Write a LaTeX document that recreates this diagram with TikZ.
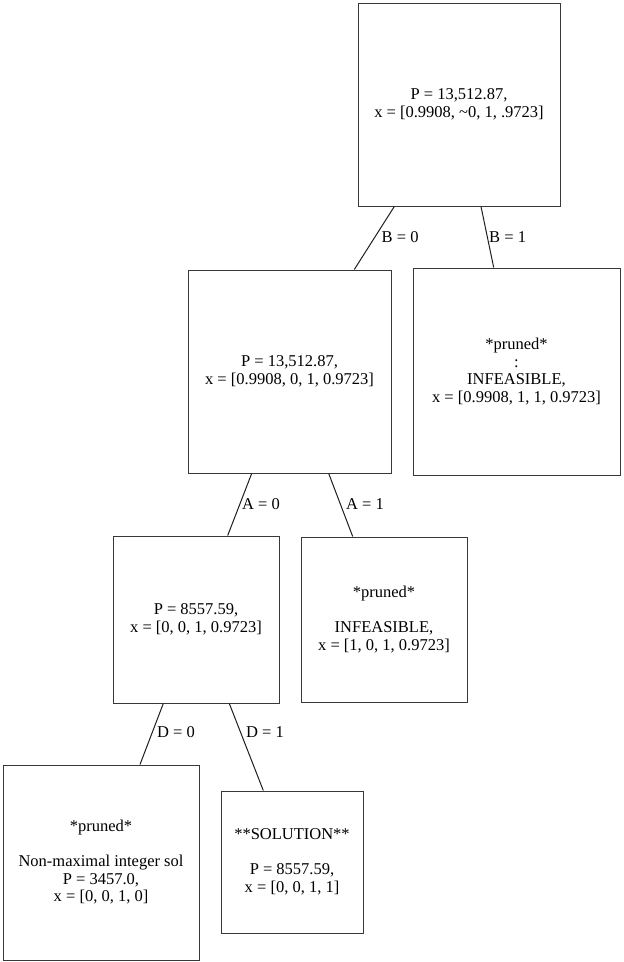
\documentclass[tikz,border=0pt]{standalone}
\usepackage{fontspec}
\setmainfont{Liberation Serif}
\begin{document}
\begin{tikzpicture}[x=1pt,y=-1pt,
  bnode/.style={draw=black!78, line width=1pt, fill=white, align=center,
    inner sep=0pt, font=\fontsize{16.5}{17.5}\selectfont},
  elabel/.style={anchor=west, inner sep=0pt, font=\fontsize{16.5}{17.5}\selectfont},
  branch/.style={draw=black!88, line width=1pt}]

% canvas
\fill[white] (0,0) rectangle (624,962);
\useasboundingbox (0,0) rectangle (624,962);

% search tree nodes
\node[bnode, minimum width=202pt, minimum height=203pt] (root) at (459,104.5)
  {P = 13,512.87,\\x = [0.9908, \textasciitilde0, 1, .9723]};
\node[bnode, minimum width=203pt, minimum height=203pt] (b0) at (289.5,371.5)
  {P = 13,512.87,\\x = [0.9908, 0, 1, 0.9723]};
\node[bnode, minimum width=207pt, minimum height=207pt] (b1) at (516.5,371.5)
  {*pruned*\\:\\INFEASIBLE,\\x = [0.9908, 1, 1, 0.9723]};
\node[bnode, minimum width=166pt, minimum height=167pt] (a0) at (196,619.5)
  {P = 8557.59,\\x = [0, 0, 1, 0.9723]};
\node[bnode, minimum width=166pt, minimum height=165pt] (a1) at (384,619.5)
  {*pruned*\\[17.5pt]INFEASIBLE,\\x = [1, 0, 1, 0.9723]};
\node[bnode, minimum width=196pt, minimum height=195pt] (d0) at (101,862.5)
  {*pruned*\\[17.5pt]Non-maximal integer sol\\P = 3457.0,\\x = [0, 0, 1, 0]};
\node[bnode, minimum width=142pt, minimum height=142pt] (d1) at (292,862)
  {**SOLUTION**\\[17.5pt]P = 8557.59,\\x = [0, 0, 1, 1]};

% branches
\draw[branch] ([xshift=-64.7pt]root.south) -- ([xshift=64.8pt]b0.north);
\draw[branch] ([xshift=22pt]root.south) -- ([xshift=-22.8pt]b1.north);
\draw[branch] ([xshift=-37.8pt]b0.south) -- ([xshift=31.7pt]a0.north);
\draw[branch] ([xshift=39.2pt]b0.south) -- ([xshift=-31.3pt]a1.north);
\draw[branch] ([xshift=-32.7pt]a0.south) -- ([xshift=39pt]d0.north);
\draw[branch] ([xshift=33.3pt]a0.south) -- ([xshift=-28.7pt]d1.north);

% branch labels
\node[elabel] (lb0) at (381.5,237) {B = 0};
\node[elabel] (lb1) at (489,237) {B = 1};
\node[elabel] (la0) at (242,504.5) {A = 0};
\node[elabel] (la1) at (346,504.5) {A = 1};
\node[elabel] (ld0) at (157,732.5) {D = 0};
\node[elabel] (ld1) at (246,732.5) {D = 1};
\end{tikzpicture}
\end{document}
